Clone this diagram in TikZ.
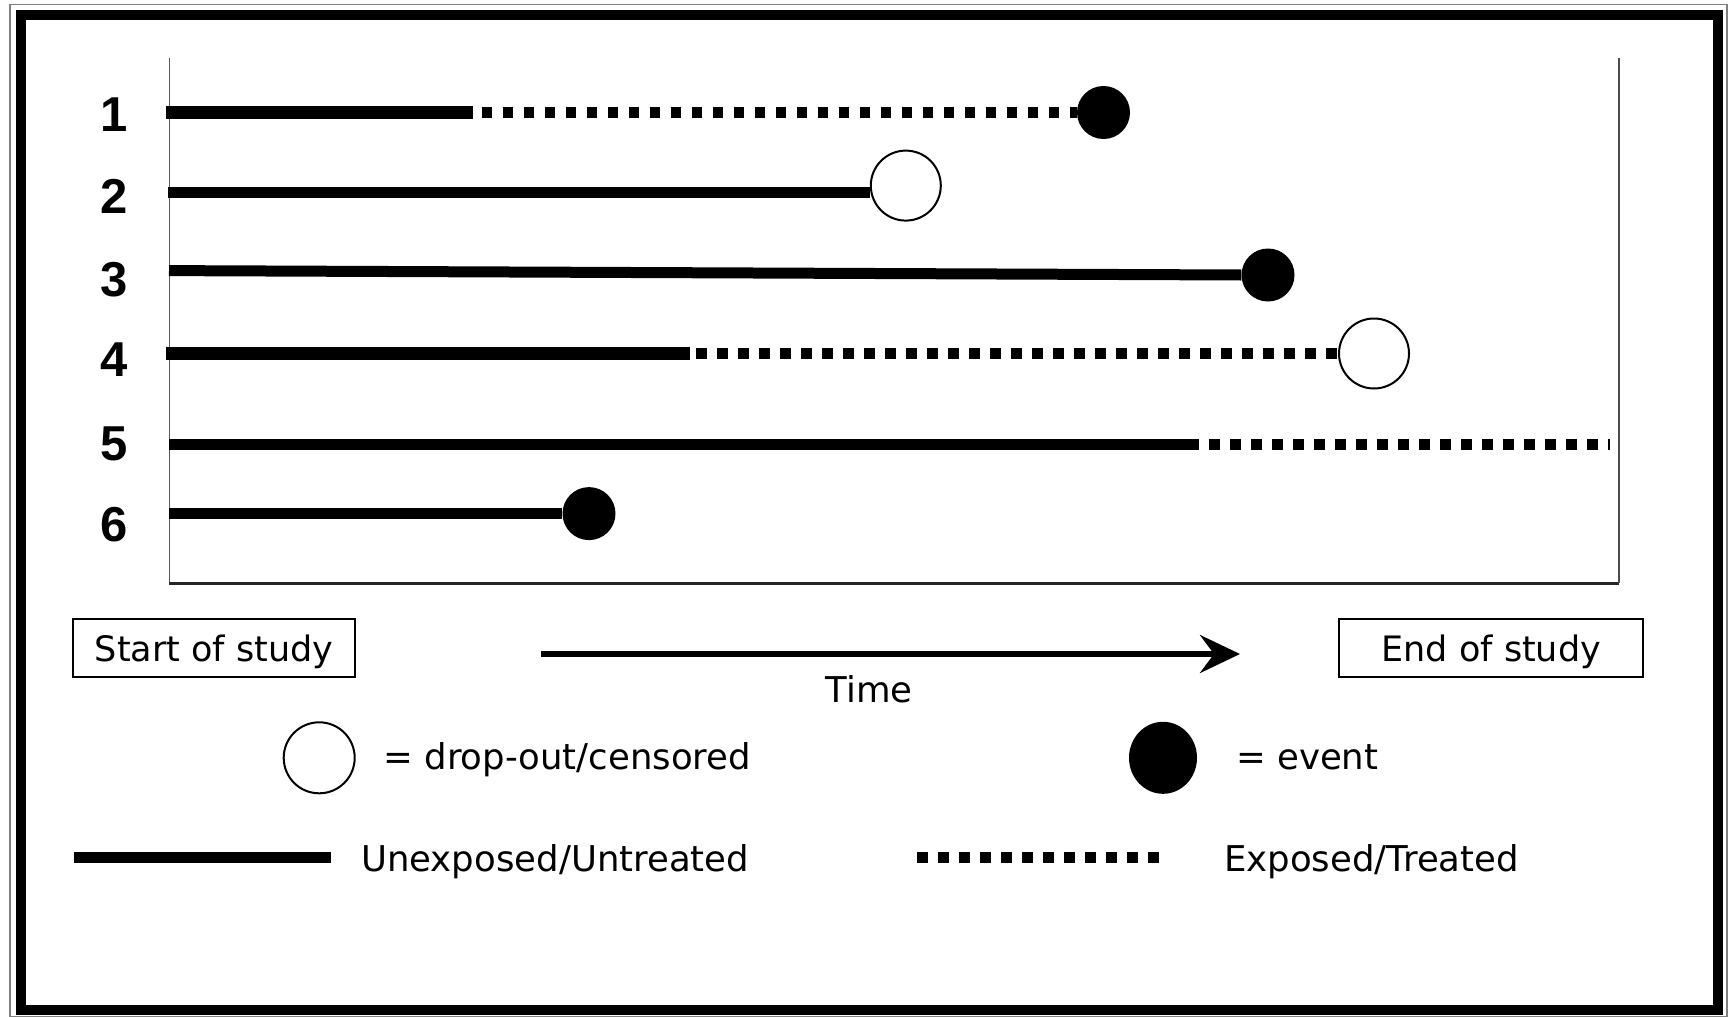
\documentclass[tikz,border=0pt]{standalone}
\usepackage{fontspec}
\setmainfont{DejaVu Sans}
\newfontfamily\numfont{Liberation Sans}
\usetikzlibrary{arrows.meta,shapes.geometric}
\begin{document}
\begin{tikzpicture}[x=1pt,y=-1pt,
  unexp/.style={line width=11pt},
  unexpthick/.style={line width=13pt},
  expo/.style={line width=11pt, dash pattern=on 10.5pt off 10.5pt},
  eventdot/.style={circle, fill=black, inner sep=0pt, minimum size=53pt},
  censor/.style={circle, draw=black, line width=2pt, fill=white, inner sep=0pt, minimum size=70pt},
  rownum/.style={font=\numfont\bfseries\fontsize{49}{55}\selectfont, inner sep=0pt},
  lbl/.style={font=\fontsize{35.5}{41}\selectfont, inner sep=0pt},
  studybox/.style={draw, line width=1.8pt, inner sep=0pt, font=\fontsize{35}{40}\selectfont,
    text height=27pt, text depth=0pt, minimum height=58.3pt}
]
% canvas
\fill[white] (0,0) rectangle (1732,1017);
\useasboundingbox (0,0) rectangle (1732,1017);
% frame
\draw[line width=1.5pt, gray] (10,4.5) rectangle (1727,1016.5);
\draw[line width=10pt] (21,15) rectangle (1718,1010);

% axes
\coordinate (tl) at (169.3,58.3);
\coordinate (bl) at (169.3,583.3);
\coordinate (br) at (1619,583.3);
\coordinate (tr) at (1619,58.3);
\draw[gray!70!black, line width=1.5pt] (tl) -- (bl);
\draw[black!85, line width=2.5pt] (bl) -- (br);
\draw[gray!60!black, line width=2.5pt] (br) -- (tr);

% row numbers
\node[rownum] (n1) at (114,114.5) {1};
\node[rownum] (n2) at (114,196.6) {2};
\node[rownum] (n3) at (114,279.5) {3};
\node[rownum] (n4) at (114,360) {4};
\node[rownum] (n5) at (114,444) {5};
\node[rownum] (n6) at (114,524.7) {6};

% end markers
\node[eventdot] (e1) at (1103.5,112.5) {};
\node[censor]   (c2) at (905.8,185.6) {};
\node[eventdot] (e3) at (1268,275) {};
\node[censor]   (c4) at (1374,353.5) {};
\node[eventdot] (e6) at (589,513.6) {};

% row 1
\coordinate (s1) at (165.7,112.5);
\coordinate (x1) at (473,112.5);
\coordinate (d1) at (481.7,112.5);
\draw[unexpthick] (s1) -- (x1);
\draw[expo] (d1) -- (e1.west);
% row 2
\coordinate (s2) at (168,192.5);
\draw[line width=11pt] (s2) -- (c2.west |- s2);
% row 3
\coordinate (s3) at (169,270.6);
\draw[unexp] (s3) -- (e3.west);
% row 4
\coordinate (s4) at (165.7,353.5);
\coordinate (x4) at (690,353.5);
\coordinate (d4) at (696,353.5);
\draw[unexpthick] (s4) -- (x4);
\draw[expo] (d4) -- (c4.west);
% row 5
\coordinate (s5) at (169,444);
\coordinate (x5) at (1199,444);
\coordinate (d5) at (1104,444);
\coordinate (f5) at (1610,444);
\draw[unexp] (s5) -- (x5);
\draw[expo] (d5) -- (f5);
% row 6
\coordinate (s6) at (169,513.6);
\draw[unexp] (s6) -- (e6.west);

% study boxes and time arrow
\node[studybox, minimum width=281.7pt] (start) at (214.2,648.2) {Start of study};
\node[studybox, minimum width=304pt] (end) at (1491.3,648.2) {End of study};
\coordinate (ta) at (541,654);
\coordinate (tb) at (1240,654);
\draw[line width=5.5pt, -{Stealth[length=40pt,width=38pt,inset=14pt]}] (ta) -- (tb);
\node[lbl, anchor=base] (time) at (869,702) {Time};

% legend
\node[censor, minimum size=71pt] (lc) at (319.2,757.8) {};
\node[lbl, anchor=base west] (lct) at (383.3,769.5) {= drop-out/censored};
\node[ellipse, fill=black, inner sep=0pt, minimum width=68pt, minimum height=72pt] (le) at (1163,757.8) {};
\node[lbl, anchor=base west] (let) at (1236,769.5) {= event};

\coordinate (ls1) at (74,857);
\coordinate (ls2) at (331,857);
\draw[unexp] (ls1) -- (ls2);
\node[lbl, anchor=base west] (lst) at (361,871) {Unexposed/Untreated};
\coordinate (ld1) at (917,857);
\coordinate (ld2) at (1166,857);
\draw[expo] (ld1) -- (ld2);
\node[lbl, anchor=base west] (ldt) at (1224,871) {Exposed/Treated};
\end{tikzpicture}
\end{document}
